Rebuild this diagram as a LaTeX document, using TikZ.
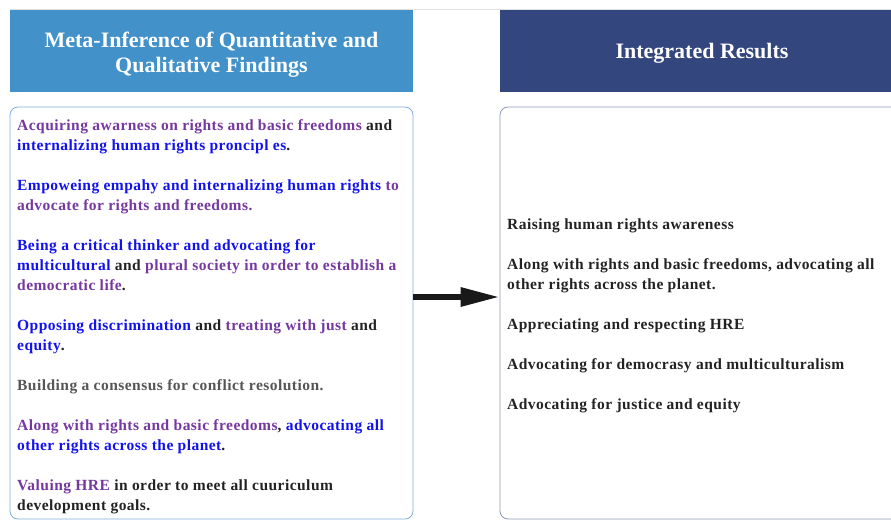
\documentclass[tikz,border=0pt]{standalone}
\usepackage{fontspec}
\setmainfont{Liberation Serif}
\newfontfamily\bodyfont{Liberation Serif}[LetterSpace=3]
\usepackage{xcolor}
\usetikzlibrary{arrows.meta,positioning}

\definecolor{headblue}{HTML}{4391C9}
\definecolor{headnavy}{HTML}{34467E}
\definecolor{boxblue}{HTML}{7FAEDC}
\definecolor{boxgray}{HTML}{8C98B8}
\definecolor{txtpurple}{HTML}{7538A0}
\definecolor{txtblue}{HTML}{1212EE}
\definecolor{txtgray}{HTML}{555558}
\definecolor{txtblack}{HTML}{222222}

\newcommand{\pur}[1]{\textcolor{txtpurple}{#1}}
\newcommand{\blu}[1]{\textcolor{txtblue}{#1}}

\tikzset{
  headbox/.style={minimum height=82pt, inner sep=0pt},
  headtext/.style={inner sep=0pt, text=white, align=center,
    font=\fontsize{22}{25}\selectfont\bfseries},
  listbox/.style={draw, rounded corners=8pt, minimum height=412pt, line width=0.8pt},
  listtext/.style={anchor=north west, inner sep=0pt, align=left,
    text=txtblack, font=\bodyfont\fontsize{15.5}{20}\selectfont\bfseries}
}

\begin{document}
\begin{tikzpicture}[x=1pt,y=-1pt]
        \useasboundingbox (0,0) rectangle (891,520);
        \clip (0,0) rectangle (891,520);
        % faint top rule
        \draw[black!12] (10,9) -- (891,9);

        % headers
        \node[headbox, fill=headblue, minimum width=403pt] (metahead) at (211.5,51) {};
        \node[headbox, fill=headnavy, minimum width=400pt] (intehead) at (700,51) {};
        \node[headtext] (metatitle) at (211.5,54.5)
            {Meta-Inference of Quantitative and\\Qualitative Findings};
        \node[headtext] (intetitle) at (702,53.5) {Integrated Results};

        % boxes
        \node[listbox, draw=boxblue, minimum width=403pt] (metabox) at (211.5,313) {};
        \node[listbox, draw=boxgray, minimum width=405pt] (intebox) at (702.5,313) {};

        % left findings
        \node[listtext] (metatext) at (17,119) {%
            \pur{Acquiring awarness on rights and basic freedoms} and\\
            \blu{internalizing human rights proncipl es}.\\[20pt]
            \blu{Empoweing empahy and internalizing human rights} \pur{to}\\
            \pur{advocate for rights and freedoms.}\\[20pt]
            \blu{Being a critical thinker and advocating for}\\
            \blu{multicultural} and \pur{plural society in order to establish a}\\
            \pur{democratic life}.\\[20pt]
            \blu{Opposing discrimination} and \pur{treating with just} and\\
            \blu{equity}.\\[20pt]
            \textcolor{txtgray}{Building a consensus for conflict resolution.}\\[20pt]
            \pur{Along with rights and basic freedoms}, \blu{advocating all}\\
            \blu{other rights across the planet}.\\[20pt]
            \pur{Valuing HRE} in order to meet all cuuriculum\\
            development goals.};

        % right results
        \node[listtext] (intetext) at (507,219) {%
            Raising human rights awareness\\[20pt]
            Along with rights and basic freedoms, advocating all\\
            other rights across the planet.\\[20pt]
            Appreciating and respecting HRE\\[20pt]
            Advocating for democrasy and multiculturalism\\[20pt]
            Advocating for justice and equity};

        % arrow
        \coordinate (arrowlevel) at (0,297);
        \draw[line width=6pt, black!90, -{Triangle[length=39pt,width=18pt]}]
            (metabox.east |- arrowlevel) -- (intebox.west |- arrowlevel);
    \end{tikzpicture}
\end{document}
